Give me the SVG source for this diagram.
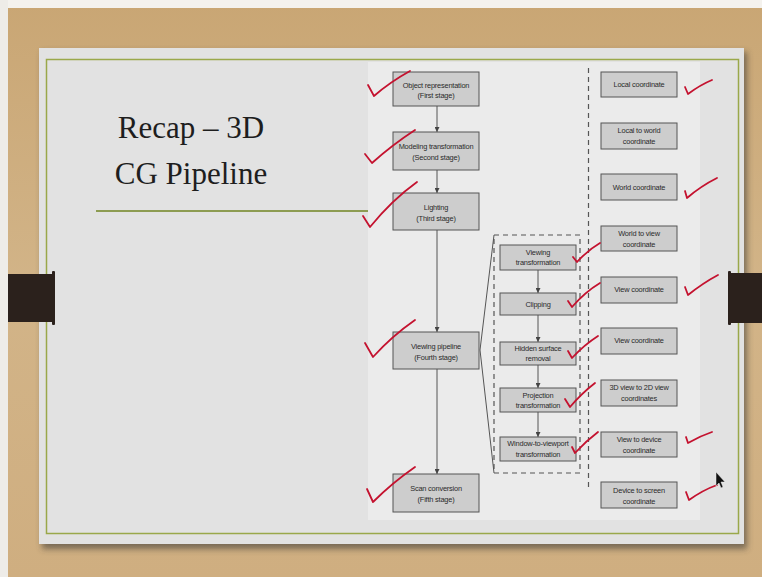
<svg xmlns="http://www.w3.org/2000/svg" width="762" height="577" viewBox="0 0 762 577">
<defs>
<linearGradient id="wood" x1="0" y1="0" x2="0" y2="1">
<stop offset="0" stop-color="#c9a674"/>
<stop offset="0.5" stop-color="#d2b488"/>
<stop offset="1" stop-color="#cfae80"/>
</linearGradient>
<filter id="shadow" x="-5%" y="-5%" width="110%" height="115%"><feGaussianBlur stdDeviation="3"/></filter>
<marker id="arr" viewBox="0 0 6 6" refX="6" refY="3" markerWidth="5" markerHeight="5" orient="auto" markerUnits="userSpaceOnUse">
<path d="M0,0 L6,3 L0,6 Z" fill="#444"/>
</marker>
<style>
.box{fill:#cdcdcd;stroke:#555;stroke-width:1}
.t{font-family:"Liberation Sans",Arial,sans-serif;font-size:7.4px;letter-spacing:-0.2px;fill:#2a2a2a;text-anchor:middle}
.title{font-family:"Liberation Serif",serif;font-size:31px;fill:#1e1e1e;text-anchor:middle}
.link{stroke:#555;stroke-width:1;fill:none}
.chk{stroke:#c4122f;stroke-width:1.8;fill:none;stroke-linecap:round;stroke-linejoin:round}
.dash{stroke:#555;stroke-width:1.2;fill:none;stroke-dasharray:5,4}
</style>
</defs>

<!-- background -->
<rect x="0" y="0" width="762" height="577" fill="url(#wood)"/>
<rect x="0" y="0" width="762" height="8" fill="#f4f2ee"/>
<rect x="0" y="0" width="8" height="577" fill="#eeece8"/>

<!-- slide -->
<rect x="42" y="52" width="705" height="497" fill="#333" opacity="0.55" filter="url(#shadow)"/>
<rect x="39" y="48" width="705" height="496" fill="#e2e2e2"/>
<rect x="368" y="62" width="332" height="458" fill="#ebebeb"/>
<rect x="46.5" y="59.5" width="692" height="474" fill="none" stroke="#9aa84a" stroke-width="1.5"/>

<!-- black bars -->
<rect x="8" y="274" width="46" height="48" fill="#2b211c"/>
<rect x="52" y="271" width="3" height="54" rx="1" fill="#2b211c"/>
<rect x="730" y="273" width="32" height="50" fill="#2b211c"/>
<rect x="728" y="271" width="3" height="54" rx="1" fill="#2b211c"/>

<!-- title -->
<g id="title">
<text class="title" x="191" y="138">Recap – 3D</text>
<text class="title" x="191" y="184">CG Pipeline</text>
<line x1="96" y1="211" x2="368" y2="211" stroke="#8d9c52" stroke-width="2"/>
</g>

<!-- connectors -->
<g id="connectors">
<line class="link" x1="437" y1="106" x2="437" y2="132" marker-end="url(#arr)"/>
<line class="link" x1="437" y1="170" x2="437" y2="193" marker-end="url(#arr)"/>
<line class="link" x1="437" y1="230" x2="437" y2="332" marker-end="url(#arr)"/>
<line class="link" x1="437" y1="369" x2="437" y2="474" marker-end="url(#arr)"/>
<line class="link" x1="538" y1="270" x2="538" y2="293" marker-end="url(#arr)"/>
<line class="link" x1="538" y1="315" x2="538" y2="342" marker-end="url(#arr)"/>
<line class="link" x1="538" y1="365" x2="538" y2="388" marker-end="url(#arr)"/>
<line class="link" x1="538" y1="412" x2="538" y2="437" marker-end="url(#arr)"/>
<line class="link" x1="480" y1="350" x2="494" y2="235"/>
<line class="link" x1="480" y1="350" x2="494" y2="473"/>
<rect class="dash" x="494" y="235" width="86" height="238"/>
<line class="dash" x1="588.5" y1="68" x2="588.5" y2="488"/>
</g>

<!-- left column -->
<g id="object-representation">
<rect class="box" x="393" y="72" width="86" height="34"/>
<text class="t" x="436" y="88">Object representation</text>
<text class="t" x="436" y="98">(First stage)</text>
</g>
<g id="modeling-transformation">
<rect class="box" x="393" y="132" width="86" height="38"/>
<text class="t" x="436" y="149">Modeling transformation</text>
<text class="t" x="436" y="160">(Second stage)</text>
</g>
<g id="lighting">
<rect class="box" x="393" y="193" width="86" height="37"/>
<text class="t" x="436" y="210">Lighting</text>
<text class="t" x="436" y="221">(Third stage)</text>
</g>
<g id="viewing-pipeline">
<rect class="box" x="393" y="332" width="86" height="37"/>
<text class="t" x="436" y="349">Viewing pipeline</text>
<text class="t" x="436" y="360">(Fourth stage)</text>
</g>
<g id="scan-conversion">
<rect class="box" x="393" y="474" width="86" height="38"/>
<text class="t" x="436" y="491">Scan conversion</text>
<text class="t" x="436" y="502">(Fifth stage)</text>
</g>

<!-- middle column -->
<g id="viewing-transformation">
<rect class="box" x="500" y="245" width="76" height="25"/>
<text class="t" x="538" y="255">Viewing</text>
<text class="t" x="538" y="265">transformation</text>
</g>
<g id="clipping">
<rect class="box" x="500" y="293" width="76" height="22"/>
<text class="t" x="538" y="307">Clipping</text>
</g>
<g id="hidden-surface-removal">
<rect class="box" x="500" y="342" width="76" height="23"/>
<text class="t" x="538" y="351">Hidden surface</text>
<text class="t" x="538" y="361">removal</text>
</g>
<g id="projection-transformation">
<rect class="box" x="500" y="388" width="76" height="24"/>
<text class="t" x="538" y="398">Projection</text>
<text class="t" x="538" y="408">transformation</text>
</g>
<g id="window-to-viewport">
<rect class="box" x="500" y="437" width="76" height="24"/>
<text class="t" x="538" y="446">Window-to-viewport</text>
<text class="t" x="538" y="457">transformation</text>
</g>

<!-- right column -->
<g id="local-coordinate">
<rect class="box" x="601" y="72" width="76" height="25"/>
<text class="t" x="639" y="87">Local coordinate</text>
</g>
<g id="local-to-world">
<rect class="box" x="601" y="123" width="76" height="26"/>
<text class="t" x="639" y="133">Local to world</text>
<text class="t" x="639" y="144">coordinate</text>
</g>
<g id="world-coordinate">
<rect class="box" x="601" y="174" width="76" height="26"/>
<text class="t" x="639" y="190">World coordinate</text>
</g>
<g id="world-to-view">
<rect class="box" x="601" y="226" width="76" height="25"/>
<text class="t" x="639" y="236">World to view</text>
<text class="t" x="639" y="247">coordinate</text>
</g>
<g id="view-coordinate-1">
<rect class="box" x="601" y="277" width="76" height="26"/>
<text class="t" x="639" y="292">View coordinate</text>
</g>
<g id="view-coordinate-2">
<rect class="box" x="601" y="328" width="76" height="26"/>
<text class="t" x="639" y="343">View coordinate</text>
</g>
<g id="view-3d-to-2d">
<rect class="box" x="601" y="380" width="76" height="26"/>
<text class="t" x="639" y="390">3D view to 2D view</text>
<text class="t" x="639" y="401">coordinates</text>
</g>
<g id="view-to-device">
<rect class="box" x="601" y="432" width="76" height="25"/>
<text class="t" x="639" y="442">View to device</text>
<text class="t" x="639" y="453">coordinate</text>
</g>
<g id="device-to-screen">
<rect class="box" x="601" y="482" width="76" height="26"/>
<text class="t" x="639" y="493">Device to screen</text>
<text class="t" x="639" y="504">coordinate</text>
</g>

<!-- handwritten checkmarks -->
<g id="checkmarks">
<path class="chk" d="M368,85 L374,96 Q390,82 410,71"/>
<path class="chk" d="M365,154 L372,163 Q392,145 415,130"/>
<path class="chk" d="M363,216 L370,227 Q392,200 417,182"/>
<path class="chk" d="M365,343 L373,357 Q392,336 415,320"/>
<path class="chk" d="M367,489 L373,502 Q392,483 415,467"/>
<path class="chk" d="M573,257 L577,262 Q588,250 600,243"/>
<path class="chk" d="M568,301 L572,307 Q585,292 600,283"/>
<path class="chk" d="M568,351 L572,358 Q584,345 598,336"/>
<path class="chk" d="M565,399 L570,407 Q582,393 595,383"/>
<path class="chk" d="M572,447 L575,453 Q586,441 598,432"/>
<path class="chk" d="M685,87 L688,94 Q700,85 712,80"/>
<path class="chk" d="M685,191 L687,198 Q701,186 717,178"/>
<path class="chk" d="M685,287 L688,295 Q703,283 718,275"/>
<path class="chk" d="M686,437 L688,443 Q700,436 712,432"/>
<path class="chk" d="M686,492 L689,500 Q703,490 717,485"/>
</g>

<!-- mouse cursor -->
<path d="M716,472 L716,486 L719,483 L721,488 L723,487 L721,482 L725,482 Z" fill="#111" stroke="#eee" stroke-width="0.5"/>
</svg>
